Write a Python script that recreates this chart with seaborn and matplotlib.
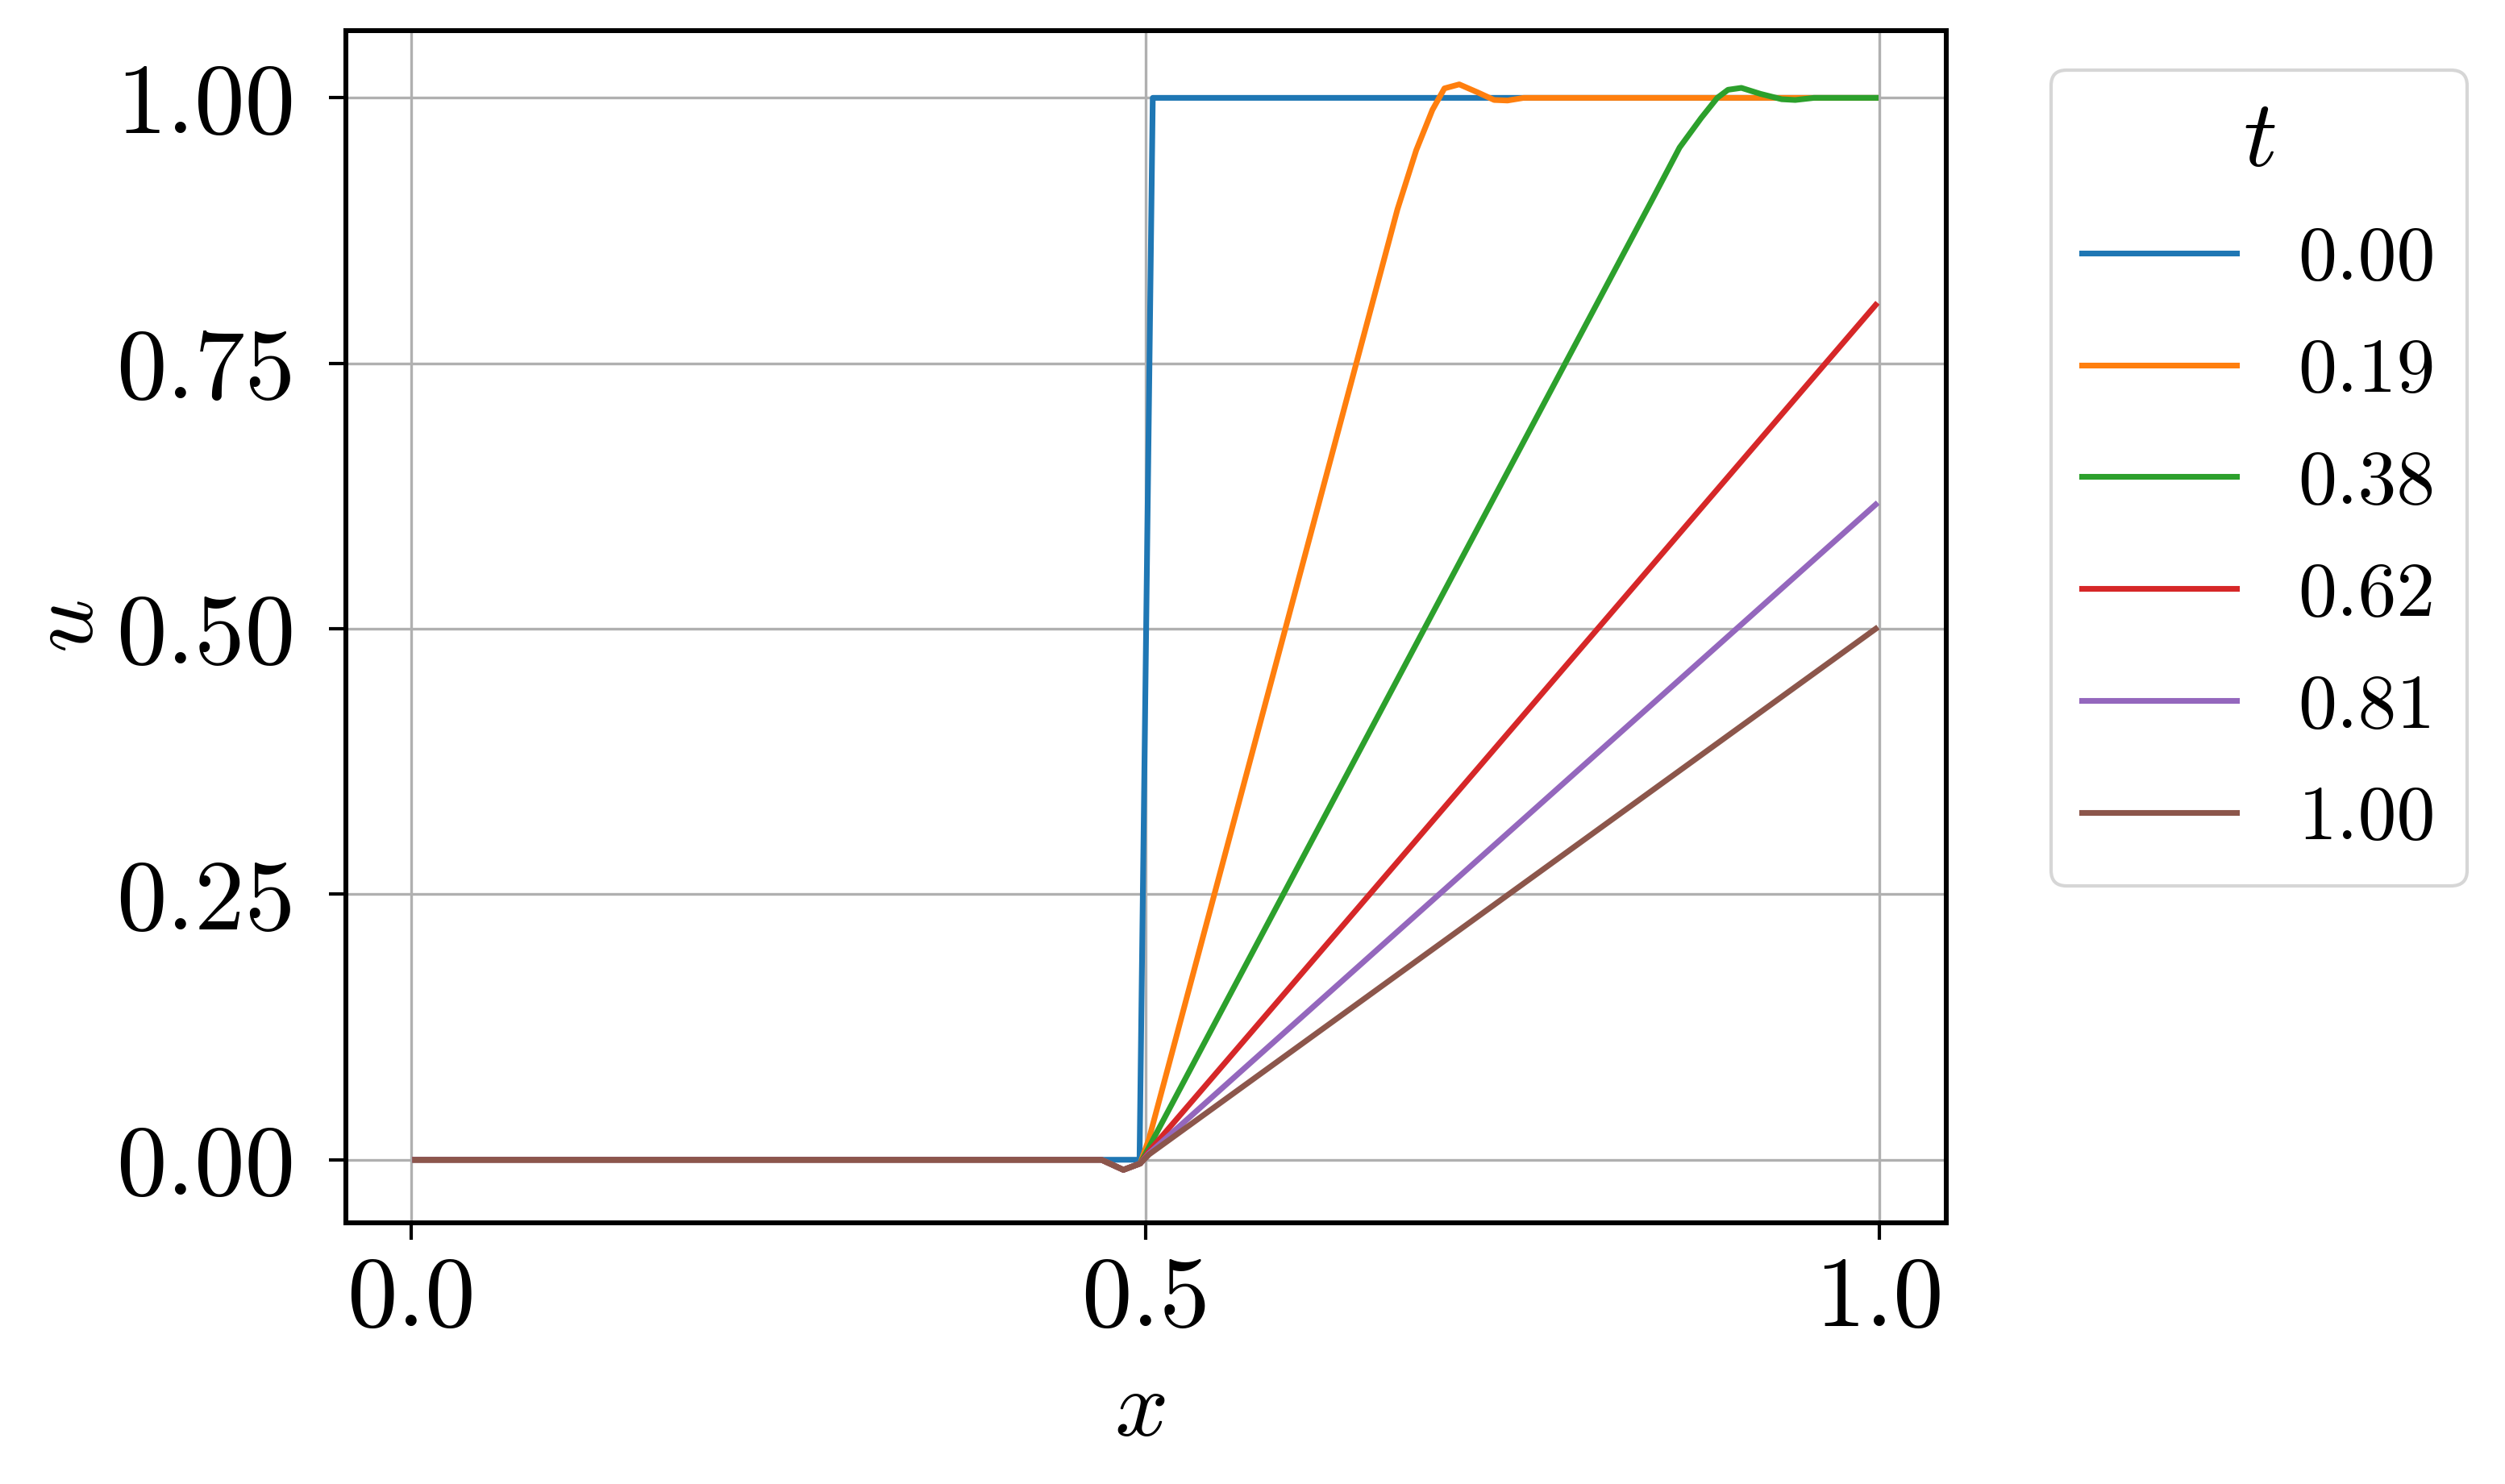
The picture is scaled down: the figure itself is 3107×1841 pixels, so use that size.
import numpy as np
import pandas as pd
import matplotlib
matplotlib.use('Agg')
import matplotlib.pyplot as plt
import seaborn as sns

# tempos (legenda)
t_labels = ['0.00', '0.19', '0.38', '0.62', '0.81', '1.00']

x_t000 = [0.0025, 0.496, 0.505, 0.9975]
u_t000 = [0.0, 0.0, 1.0, 1.0]

x_t019 = [0.0025, 0.47, 0.485, 0.4965, 0.5025, 0.6717, 0.6845, 0.6955, 0.7037, 0.7138,
          0.7266, 0.7376, 0.7467, 0.7577, 0.9975]
u_t019 = [0.0, 0.0, -0.0095, -0.0035, 0.02, 0.895, 0.9507, 0.9886, 1.0089, 1.0127,
          1.005, 0.998, 0.9975, 1.0, 1.0]

x_t038 = [0.0025, 0.47, 0.485, 0.4965, 0.5025, 0.8456, 0.8639, 0.8786, 0.8896, 0.8969,
          0.906, 0.9189, 0.9335, 0.9427, 0.9555, 0.9975]
u_t038 = [0.0, 0.0, -0.0095, -0.0035, 0.012, 0.905, 0.9532, 0.981, 1.0, 1.0076,
          1.0094, 1.0038, 0.9987, 0.998, 1.0, 1.0]

x_t062 = [0.0025, 0.47, 0.485, 0.4965, 0.5025, 0.9975]
u_t062 = [0.0, 0.0, -0.0095, -0.0035, 0.008, 0.805]

x_t081 = [0.0025, 0.47, 0.485, 0.4965, 0.5025, 0.9975]
u_t081 = [0.0, 0.0, -0.0095, -0.0035, 0.006, 0.617]

x_t100 = [0.0025, 0.47, 0.485, 0.4965, 0.5025, 0.9975]
u_t100 = [0.0, 0.0, -0.0095, -0.0035, 0.005, 0.50]

x_ticks = [0.0, 0.5, 1.0]
x_ticklabels = ['0.0', '0.5', '1.0']
y_ticks = [0.0, 0.25, 0.5, 0.75, 1.0]
y_ticklabels = ['0.00', '0.25', '0.50', '0.75', '1.00']

# montar tabela longa para o seaborn
series_x = [x_t000, x_t019, x_t038, x_t062, x_t081, x_t100]
series_u = [u_t000, u_t019, u_t038, u_t062, u_t081, u_t100]
frames = []
for lab, xs, us in zip(t_labels, series_x, series_u):
    frames.append(pd.DataFrame({'x': xs, 'u': us, 't': lab}))
dados = pd.concat(frames, ignore_index=True)

plt.rcParams['font.family'] = 'serif'
plt.rcParams['font.serif'] = ['cmr10']
plt.rcParams['mathtext.fontset'] = 'cm'
plt.rcParams['axes.formatter.use_mathtext'] = True

fig = plt.figure(figsize=(3107 / 300, 1841 / 300), dpi=300)
ax = fig.add_axes([429 / 3107, 1 - 1517 / 1841, (2414 - 429) / 3107, (1517 - 38) / 1841])

sns.lineplot(data=dados, x='x', y='u', hue='t', hue_order=t_labels, palette='tab10',
             estimator=None, sort=False, linewidth=1.7, ax=ax, legend=True)

ax.set_xlim(-0.0447, 1.0456)
ax.set_ylim(-0.0594, 1.0633)
ax.set_xticks(x_ticks)
ax.set_xticklabels(x_ticklabels)
ax.set_yticks(y_ticks)
ax.set_yticklabels(y_ticklabels)
ax.tick_params(axis='both', labelsize=30, length=5, width=1.0)
ax.tick_params(axis='x', pad=5)
ax.tick_params(axis='y', pad=10)
ax.grid(True, color='#b0b0b0', linewidth=0.8)
ax.set_axisbelow(True)
for s in ax.spines.values():
    s.set_linewidth(1.45)

ax.set_xlabel('$x$', fontsize=28)
ax.set_ylabel('$u$', fontsize=28)
ax.xaxis.set_label_coords(0.496, -0.124)
ax.yaxis.set_label_coords(-0.147, 0.5)

handles, labels = ax.get_legend_handles_labels()
leg = ax.legend(handles, labels, title='$t$', fontsize=23, title_fontsize=28,
                loc='upper left', bbox_to_anchor=(2544 / 3107, 1 - 87 / 1841),
                bbox_transform=fig.transFigure, borderaxespad=0, labelspacing=0.55,
                framealpha=0.8, edgecolor='0.8')

fig.savefig('out.png', dpi=300)
